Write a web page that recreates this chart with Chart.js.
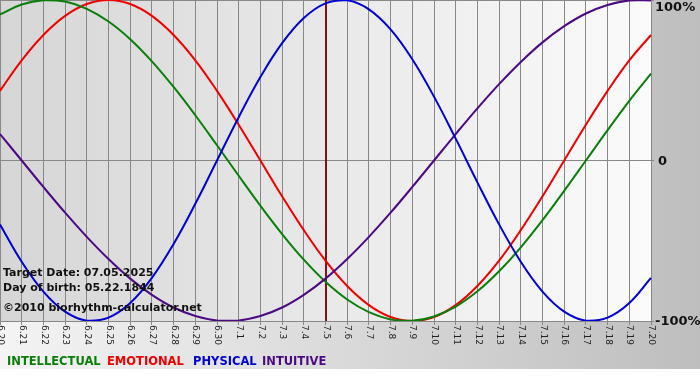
<!DOCTYPE html>
<html>
<head>
<meta charset="utf-8">
<script src="https://cdn.jsdelivr.net/npm/chart.js@4"></script>
<style>
html,body{margin:0;padding:0;background:#fff;}
#wrap{width:700px;height:380px;position:relative;}
</style>
</head>
<body>
<div id="wrap"><canvas id="c" width="700" height="380"></canvas></div>
<script>
// Dates (M.D)
const dayLabels = ["6.20","6.21","6.22","6.23","6.24","6.25","6.26","6.27","6.28","6.29","6.30",
  "7.1","7.2","7.3","7.4","7.5","7.6","7.7","7.8","7.9","7.10",
  "7.11","7.12","7.13","7.14","7.15","7.16","7.17","7.18","7.19","7.20"];

// Cycle values in percent
const intellectual = [91.0,97.2,99.9,99.0,94.5,86.6,75.6,61.8,45.8,28.2,9.5,
  -9.5,-28.2,-45.8,-61.8,-75.6,-86.6,-94.5,-99.0,-99.9,-97.2,
  -91.0,-81.5,-69.0,-54.1,-37.2,-18.9,0,18.9,37.2,54.1];
const emotional = [43.4,62.4,78.2,90.1,97.5,100,97.5,90.1,78.2,62.4,43.4,
  22.3,0,-22.3,-43.4,-62.4,-78.2,-90.1,-97.5,-100,-97.5,
  -90.1,-78.2,-62.4,-43.4,-22.3,0,22.3,43.4,62.4,78.2];
const physical = [-39.8,-63.1,-81.7,-94.2,-99.8,-97.9,-88.8,-73.1,-52.0,-27.0,0,
  27.0,52.0,73.1,88.8,97.9,99.8,94.2,81.7,63.1,39.8,
  13.6,-13.6,-39.8,-63.1,-81.7,-94.2,-99.8,-97.9,-88.8,-73.1];
const intuitive = [16.5,0,-16.5,-32.5,-47.6,-61.4,-73.6,-83.7,-91.6,-96.9,-99.7,
  -99.7,-96.9,-91.6,-83.7,-73.6,-61.4,-47.6,-32.5,-16.5,0,
  16.5,32.5,47.6,61.4,73.6,83.7,91.6,96.9,99.7,99.7];

const yTickLabels = {"100":"100%","0":"0","-100":"-100%"};
const targetDay = "7.5";
const infoLines = ["Target Date: 07.05.2025","Day of birth: 05.22.1844","\u00A92010 biorhythm-calculator.net"];
const legendNames = ["INTELLECTUAL","EMOTIONAL","PHYSICAL","INTUITIVE"];
const seriesColors = ["#0a7d0a","#ee0000","#0000d0","#4b0a82"];
const legendX = [7,107,193,262];

const bgPlugin = {
  id:'bg',
  beforeDraw(chart){
    const ctx = chart.ctx, a = chart.chartArea;
    ctx.save();
    ctx.fillStyle = '#ffffff';
    ctx.fillRect(0,0,700,380);
    let g = ctx.createLinearGradient(0,0,700,0);
    g.addColorStop(0,'#f4f4f4');
    g.addColorStop(1,'#bebebe');
    ctx.fillStyle = g;
    ctx.fillRect(0,0,700,369);
    g = ctx.createLinearGradient(a.left,0,a.right,0);
    g.addColorStop(0,'#d6d6d6');
    g.addColorStop(1,'#fbfbfb');
    ctx.fillStyle = g;
    ctx.fillRect(a.left,a.top,a.right-a.left,a.bottom-a.top);
    ctx.restore();
  },
  beforeDatasetsDraw(chart){
    const ctx = chart.ctx, a = chart.chartArea;
    const x = Math.round(chart.scales.x.getPixelForValue(dayLabels.indexOf(targetDay)));
    ctx.save();
    ctx.strokeStyle = '#7a1616';
    ctx.lineWidth = 2;
    ctx.beginPath();
    ctx.moveTo(x, a.top);
    ctx.lineTo(x, a.bottom);
    ctx.stroke();
    ctx.restore();
  },
  afterDraw(chart){
    const ctx = chart.ctx, a = chart.chartArea;
    const xs = chart.scales.x, ys = chart.scales.y;
    ctx.save();
    // x labels, rotated clockwise
    ctx.fillStyle = '#222';
    ctx.font = '9px "DejaVu Sans"';
    ctx.textAlign = 'left';
    ctx.textBaseline = 'middle';
    dayLabels.forEach((l,i)=>{
      const x = xs.getPixelForValue(i);
      ctx.save();
      ctx.translate(x+0.5, a.bottom+4);
      ctx.rotate(Math.PI/2);
      ctx.fillText(l,0,0);
      ctx.restore();
    });
    // y labels
    ctx.fillStyle = '#111';
    ctx.font = 'bold 13px "DejaVu Sans"';
    ctx.textBaseline = 'middle';
    Object.keys(yTickLabels).forEach(k=>{
      let y = ys.getPixelForValue(+k);
      if (+k === 100) y += 7;
      let x = a.right + 4;
      if (+k === 0) x = a.right + 7;
      ctx.fillText(yTickLabels[k], x, y+1);
    });
    // info text
    ctx.fillStyle = '#111';
    ctx.font = 'bold 11px "DejaVu Sans"';
    ctx.textBaseline = 'alphabetic';
    const iy = [276, 291, 311];
    infoLines.forEach((t,i)=>ctx.fillText(t, 3, iy[i]));
    // legend
    ctx.font = 'bold 11.5px "DejaVu Sans"';
    legendNames.forEach((t,i)=>{
      ctx.fillStyle = seriesColors[i];
      ctx.fillText(t, legendX[i], 365);
    });
    ctx.restore();
  }
};

const mk = (label, data, color) => ({
  label, data, borderColor: color, borderWidth: 2, pointRadius: 0,
  tension: 0.4, fill: false
});

new Chart(document.getElementById('c'), {
  type: 'line',
  data: {
    labels: dayLabels,
    datasets: [
      mk(legendNames[2], physical, seriesColors[2]),
      mk(legendNames[3], intuitive, seriesColors[3]),
      mk(legendNames[0], intellectual, seriesColors[0]),
      mk(legendNames[1], emotional, seriesColors[1])
    ]
  },
  options: {
    responsive: false,
    animation: false,
    devicePixelRatio: 1,
    layout: { padding: { left: 0, top: 0, right: 46, bottom: 55 } },
    plugins: { legend: { display: false }, tooltip: { enabled: false } },
    scales: {
      x: {
        offset: false,
        border: { display: false },
        grid: { color: '#888', lineWidth: 1, drawTicks: true, tickLength: 4, tickColor: '#888' },
        ticks: { display: false, autoSkip: false }
      },
      y: {
        position: 'right',
        min: -100, max: 100,
        border: { display: false },
        grid: { color: '#888', lineWidth: 1, drawTicks: true, tickLength: 3, tickColor: '#888' },
        ticks: { display: false, stepSize: 100 }
      }
    }
  },
  plugins: [bgPlugin]
});
</script>
</body>
</html>
